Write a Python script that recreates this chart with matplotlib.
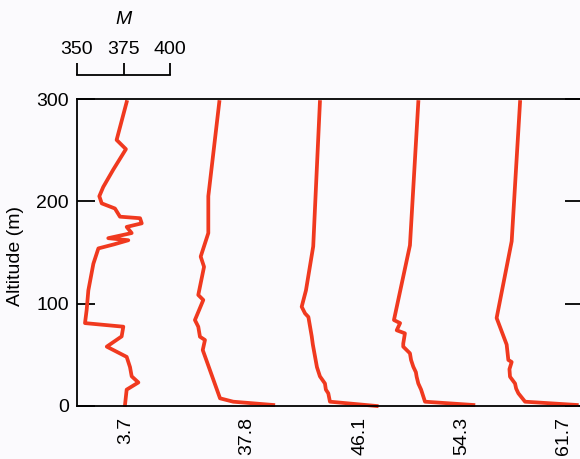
import numpy as np
import matplotlib.pyplot as plt

plt.rcParams['font.family'] = ['Liberation Sans', 'DejaVu Sans']

# altitude (m) and M values for each sounding, M read relative to its own column
alt1 = [297, 260, 251, 231, 214, 205, 198, 193, 185, 183.5, 178.5, 175, 169, 164, 162, 158, 154, 139,
        113, 94, 81, 77.5, 68, 58, 48, 38, 29, 23, 16, 1]
m1 = [376.7, 371.3, 376.3, 369.5, 364.1, 362.0, 363.3, 370.4, 373.1, 383.9, 384.8, 376.7, 379.4, 366.8,
      377.6, 370.0, 361.5, 358.8, 356.1, 355.2, 354.3, 374.9, 374.0, 366.0, 376.7, 378.5, 379.4, 383.0,
      376.7, 375.8]

alt2 = [297, 205, 169, 146, 136, 108.5, 103.6, 84, 77.5, 67.7, 64.5, 54.7, 7.5, 4.2, 1]
m2 = [361.5, 355.6, 355.6, 351.5, 353.3, 350.2, 352.9, 348.4, 350.2, 351.1, 353.8, 352.6, 361.9, 369.0, 390.5]

alt3 = [297, 156, 113, 97, 90.5, 87, 68, 60, 48, 38, 29, 22, 16, 12.4, 4.2, 0]
m3 = [354.6, 351.0, 347.1, 344.8, 346.6, 348.4, 350.2, 350.8, 352.0, 353.0, 354.6, 357.3, 357.8, 359.1,
      360.0, 385.1]

alt4 = [297, 157, 84, 81, 74, 71, 61, 58, 51.5, 45, 38.4, 33, 28.6, 22, 16, 4.2, 1]
m4 = [352.5, 348.0, 339.4, 342.7, 340.9, 345.3, 344.4, 344.4, 348.0, 348.6, 349.8, 351.2, 351.6, 352.5,
      354.0, 356.1, 382.1]

alt5 = [297, 161, 86, 60, 45, 43, 36, 28.6, 22, 17, 12.4, 4.2, 1]
m5 = [352.7, 348.2, 340.1, 345.5, 346.4, 348.2, 347.0, 347.3, 350.0, 350.6, 351.8, 355.4, 383.2]

labels = ['3.7', '37.8', '46.1', '54.3', '61.7']
offsets = [0, 65, 126, 181, 235.5]
base_m = 376

red = '#f0391f'
bg = '#fbfafd'
fs = 14

fig = plt.figure(figsize=(5.8, 4.59), dpi=100, facecolor=bg)
ax = fig.add_axes([77 / 580, 53 / 459, 506 / 580, 307 / 459])
ax.set_facecolor(bg)

profiles = [(alt1, m1), (alt2, m2), (alt3, m3), (alt4, m4), (alt5, m5)]
for (a, m), off in zip(profiles, offsets):
    ax.plot(np.array(m) + off, a, color=red, lw=2.7, solid_joinstyle='round', clip_on=False)

ax.set_xlim(350, 350 + 506 / 1.86)
ax.set_ylim(0, 300)
ax.set_yticks([0, 100, 200, 300])
ax.tick_params(axis='y', direction='in', length=13, width=1.3, labelsize=fs, pad=6,
               right=True)
ax.set_xticks([base_m + o for o in offsets])
ax.set_xticklabels(labels, rotation=90, va='top')
ax.tick_params(axis='x', length=0, labelsize=fs, pad=8)
for s in ax.spines.values():
    s.set_linewidth(1.3)
ax.set_ylabel('Altitude (m)', fontsize=fs)
ax.yaxis.set_label_coords(-0.104, 0.49)

# scale bar for M
sb = fig.add_axes([77 / 580, (459 - 75) / 459 - 0.02, 506 / 580, 0.02])
sb.set_xlim(ax.get_xlim())
sb.patch.set_visible(False)
for k in ['left', 'right', 'bottom']:
    sb.spines[k].set_visible(False)
sb.spines['top'].set_bounds(350, 400)
sb.spines['top'].set_linewidth(1.3)
sb.set_yticks([])
sb.xaxis.set_ticks_position('top')
sb.set_xticks([350, 375, 400])
sb.tick_params(axis='x', direction='out', length=9, width=1.3, labelsize=fs, pad=3)
fig.text(124 / 580, 1 - 19 / 459, 'M', fontsize=fs, style='italic', ha='center', va='center')

fig.savefig('out.png', dpi=100, facecolor=bg)
